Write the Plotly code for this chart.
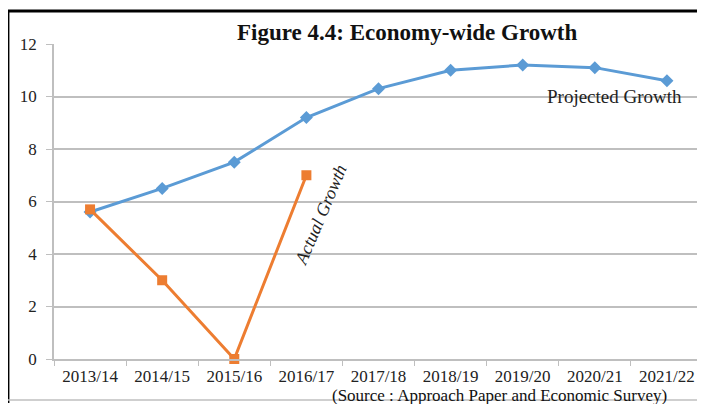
import plotly.graph_objects as go

years = ["2013/14", "2014/15", "2015/16", "2016/17", "2017/18",
         "2018/19", "2019/20", "2020/21", "2021/22"]
projected = [5.6, 6.5, 7.5, 9.2, 10.3, 11.0, 11.2, 11.1, 10.6]
actual_years = ["2013/14", "2014/15", "2015/16", "2016/17"]
actual = [5.7, 3.0, 0.0, 7.0]

serif = "Liberation Serif, Times New Roman, serif"

fig = go.Figure()
fig.add_trace(go.Scatter(
    x=years, y=projected, mode="lines+markers",
    line=dict(color="#5B9BD5", width=3),
    marker=dict(symbol="diamond", size=10, color="#5B9BD5"),
    showlegend=False, cliponaxis=False,
))
fig.add_trace(go.Scatter(
    x=actual_years, y=actual, mode="lines+markers",
    line=dict(color="#ED7D31", width=3),
    marker=dict(symbol="square", size=10, color="#ED7D31"),
    showlegend=False, cliponaxis=False,
))

fig.update_xaxes(
    type="category", range=[-0.5, 8.5],
    showline=True, linecolor="#BFBFBF", linewidth=1.5,
    ticks="outside", tickson="boundaries", ticklen=5, tickcolor="#BFBFBF",
    ticklabelstandoff=1,
    showgrid=False, tickfont=dict(family=serif, size=17, color="#222"),
)
fig.update_yaxes(
    range=[0, 12], dtick=2,
    showgrid=True, gridcolor="#BFBFBF", gridwidth=1.5,
    showline=True, linecolor="#BFBFBF", linewidth=1.5,
    ticks="outside", ticklen=6, tickcolor="#BFBFBF",
    ticklabelstandoff=6,
    zeroline=False, tickfont=dict(family=serif, size=17, color="#222"),
)

fig.add_annotation(text="<b>Figure 4.4: Economy-wide Growth</b>",
                   xref="paper", yref="paper", x=0.544, y=1.035,
                   xanchor="center", yanchor="middle", showarrow=False,
                   font=dict(family=serif, size=23, color="#111"))
fig.add_annotation(text="Projected Growth", x="2020/21", y=10.0,
                   xshift=20, showarrow=False,
                   font=dict(family=serif, size=19, color="#222"))
fig.add_annotation(text="<i>Actual Growth</i>", x="2016/17", y=5.5,
                   xshift=14, textangle=-67, showarrow=False,
                   font=dict(family=serif, size=18, color="#222"))
fig.add_annotation(text="(Source : Approach Paper and Economic Survey)",
                   xref="paper", yref="paper", x=0.686, y=0,
                   yshift=-36, xanchor="center", yanchor="middle",
                   borderpad=0, showarrow=False,
                   font=dict(family=serif, size=17, color="#111"))

# frame round the figure: black top and left, grey bottom
fig.add_shape(type="line", xref="paper", yref="paper",
              x0=-0.071, x1=1.03, y0=1.105, y1=1.105,
              line=dict(color="black", width=3))
fig.add_shape(type="line", xref="paper", yref="paper",
              x0=-0.071, x1=-0.071, y0=1.105, y1=-0.14,
              line=dict(color="black", width=3))
fig.add_shape(type="line", xref="paper", yref="paper",
              x0=-0.071, x1=1.03, y0=-0.13, y1=-0.13,
              line=dict(color="#BFBFBF", width=1.5))

fig.update_layout(
    width=705, height=404,
    margin=dict(l=46, r=10, t=36, b=53),
    paper_bgcolor="white", plot_bgcolor="white",
)

fig.write_html("out.html")
